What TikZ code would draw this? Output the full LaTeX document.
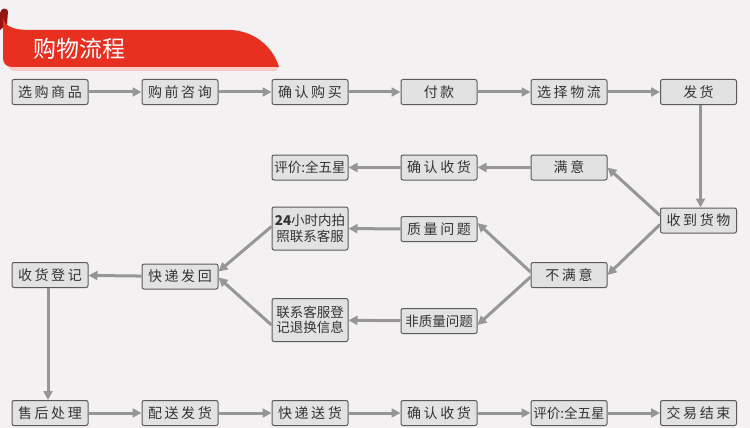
\documentclass[tikz,border=0pt]{standalone}
\usepackage{fontspec}
\setmainfont{Noto Sans CJK SC}
\newfontfamily\cjkwide[LetterSpace=18]{Noto Sans CJK SC}
\usetikzlibrary{arrows.meta}

\definecolor{bggray}{RGB}{243,241,242}
\definecolor{boxfill}{RGB}{226,226,226}
\definecolor{boxline}{RGB}{90,90,90}
\definecolor{flowgray}{RGB}{150,150,150}
\definecolor{ribbonred}{RGB}{232,48,32}
\definecolor{ribbondark}{RGB}{150,20,15}

\tikzset{
  box/.style={shape=rectangle,draw=boxline,fill=boxfill,rounded corners=2pt,line width=1pt,
    minimum width=76pt,minimum height=25pt,inner sep=1pt,text=black!80,font=\fontsize{13.5}{16}\selectfont},
  widebox/.style={box,font=\fontsize{14}{16}\cjkwide},
  tallbox/.style={box,minimum height=43pt,align=center,font=\fontsize{13.5}{15.5}\selectfont},
  flow/.style={draw=flowgray,line width=3pt,-{Triangle[length=9pt,width=9pt]}}
}

\begin{document}
\begin{tikzpicture}[x=1pt,y=-1pt]
        \fill[bggray] (0,0) rectangle (750,428);
        \useasboundingbox (0,0) rectangle (750,428);
        % title ribbon
        \fill[ribbondark] (0,13) .. controls (1,8) and (6,7) .. (8,11) -- (7,24) -- (0,30) -- cycle;
        \fill[ribbonred!25] (8,67) -- (279,67) -- (276,71) -- (12,71) -- cycle;
        \fill[ribbonred] (3,15) .. controls (3,26) and (12,30) .. (30,30) -- (232,30)
            .. controls (258,32) and (274,50) .. (279,67) -- (12,67)
            .. controls (6,67) and (3,63) .. (3,58) -- cycle;
        \node[text=white,font=\fontsize{23}{26}\selectfont](title) at (80,49) {购物流程};
        % first row
        \node[widebox](sel) at (50,92) {选购商品};
        \node[widebox](ask) at (180,92) {购前咨询};
        \node[widebox](buy) at (310,92) {确认购买};
        \node[widebox](pay) at (439,92) {付\,款};
        \node[widebox](logi) at (569,92) {选择物流};
        \node[widebox](ship) at (698.5,92) {发\,货};
        % second row
        \node[box](rate) at (310,167.5) {评价:全五星};
        \node[widebox](ok) at (439,167.5) {确认收货};
        \node[widebox](happy) at (569,167.5) {满意};
        % middle part
        \node[widebox](recv) at (698.5,220.5) {收到货物};
        \node[widebox](unhappy) at (569,275) {不满意};
        \node[widebox](qual) at (439,229) {质量问题};
        \node[box](nonqual) at (439,321) {非质量问题};
        \node[tallbox](photo) at (310,228.5) {\textbf{24}小时内拍\\照联系客服};
        \node[tallbox](contact) at (310,320) {联系客服登\\记退换信息};
        \node[widebox](back) at (180,276.5) {快递发回};
        \node[widebox](reg) at (50,275) {收货登记};
        % last row
        \node[widebox](after) at (50,413) {售后处理};
        \node[widebox](resend) at (180,413) {配送发货};
        \node[widebox](express) at (310,413) {快递送货};
        \node[widebox](ok2) at (439,413) {确认收货};
        \node[box](rate2) at (569,413) {评价:全五星};
        \node[widebox](done) at (698.5,413) {交易结束};
        % connectors
        \path[flow] (sel) -- (ask);
        \path[flow] (ask) -- (buy);
        \path[flow] (buy) -- (pay);
        \path[flow] (pay) -- (logi);
        \path[flow] (logi) -- (ship);
        \path[flow] ([xshift=2pt]ship.south) -- ([xshift=2pt]recv.north);
        \path[flow] ([yshift=5pt]recv.west) -- (happy.east);
        \path[flow] ([yshift=-4pt]recv.west) -- (unhappy.east);
        \path[flow] (happy) -- (ok);
        \path[flow] (ok) -- (rate);
        \path[flow] ([yshift=3pt]unhappy.west) -- ([yshift=6pt]qual.east);
        \path[flow] ([yshift=-2pt]unhappy.west) -- ([yshift=-4pt]nonqual.east);
        \path[flow] (qual) -- (photo);
        \path[flow] (nonqual) -- (contact);
        \path[flow] ([yshift=2pt]photo.west) -- ([yshift=5pt]back.east);
        \path[flow] ([yshift=-5pt]contact.west) -- ([yshift=-1pt]back.east);
        \path[flow] (back) -- (reg);
        \path[flow] ([xshift=-2pt]reg.south) -- ([xshift=-2pt]after.north);
        \path[flow] (after) -- (resend);
        \path[flow] (resend) -- (express);
        \path[flow] (express) -- (ok2);
        \path[flow] (ok2) -- (rate2);
        \path[flow] (rate2) -- (done);
    \end{tikzpicture}
\end{document}
